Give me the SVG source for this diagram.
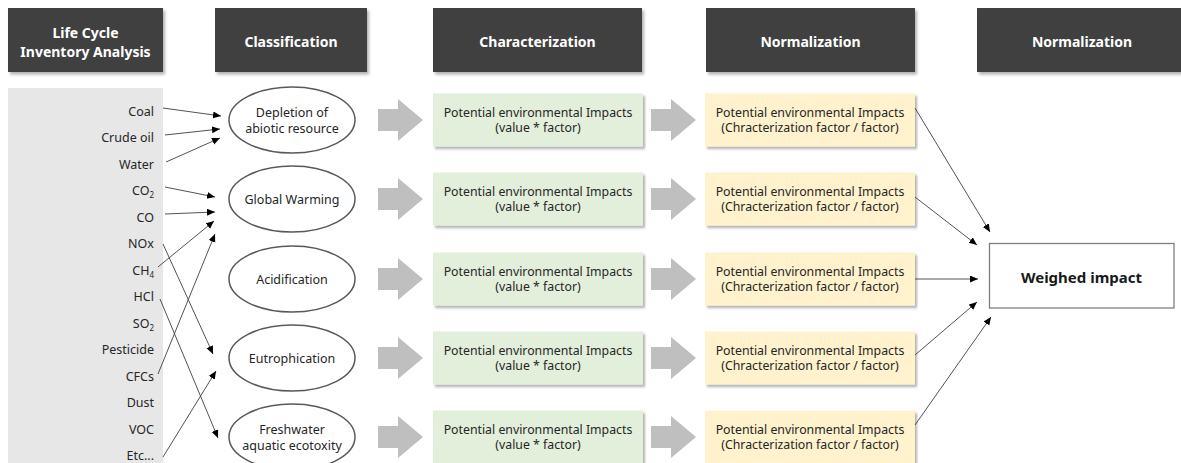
<svg xmlns="http://www.w3.org/2000/svg" width="1181" height="463" viewBox="0 0 1181 463">
<style>
.hdr{fill:#404040;filter:url(#sh)}
.ht{font-family:"Noto Sans","Liberation Sans",sans-serif;font-weight:bold;font-size:14px;fill:#ffffff;text-anchor:middle}
.lbl{font-family:"Noto Sans","Liberation Sans",sans-serif;font-size:12.5px;fill:#262626;text-anchor:end}
.et{font-family:"Noto Sans","Liberation Sans",sans-serif;font-size:12.5px;fill:#262626;text-anchor:middle}
.bt{font-family:"Noto Sans","Liberation Sans",sans-serif;font-size:12.3px;fill:#262626;text-anchor:middle}
.ell{fill:#ffffff;stroke:#595959;stroke-width:1.5}
.gb{fill:#e2efda;filter:url(#sh2)}
.yb{fill:#fff2cc;filter:url(#sh2)}
.ba{fill:#bfbfbf}
.con{fill:none;stroke:#404040;stroke-width:0.9;marker-end:url(#ah)}
</style>
<defs>
<filter id="sh" x="-10%" y="-10%" width="130%" height="140%"><feDropShadow dx="2" dy="2.5" stdDeviation="1.5" flood-color="#000" flood-opacity="0.3"/></filter>
<filter id="sh2" x="-10%" y="-10%" width="130%" height="140%"><feDropShadow dx="2" dy="2.5" stdDeviation="1.3" flood-color="#000" flood-opacity="0.3"/></filter>
<marker id="ah" markerUnits="userSpaceOnUse" markerWidth="9" markerHeight="8" refX="8" refY="3.5" orient="auto"><path d="M0,0 L8,3.5 L0,7 Z" fill="#000"/></marker>
<path id="barrow" d="M0,-11 H20 V-21 L45,0 L20,21 V11 H0 Z"/>
</defs>
<rect width="1181" height="463" fill="#ffffff"/>

<g id="headers">
<g id="h-lci"><rect class="hdr" x="8" y="8" width="155" height="64"/><text class="ht" x="85.5" y="38">Life Cycle</text><text class="ht" x="85.5" y="57">Inventory Analysis</text></g>
<g id="h-class"><rect class="hdr" x="215" y="8" width="152" height="64"/><text class="ht" x="291" y="47">Classification</text></g>
<g id="h-char"><rect class="hdr" x="433" y="8" width="209" height="64"/><text class="ht" x="537.5" y="47">Characterization</text></g>
<g id="h-norm1"><rect class="hdr" x="706" y="8" width="209" height="64"/><text class="ht" x="810.5" y="47">Normalization</text></g>
<g id="h-norm2"><rect class="hdr" x="977" y="8" width="210" height="64"/><text class="ht" x="1082" y="47">Normalization</text></g>
</g>

<g id="inventory">
<rect x="8" y="88" width="155" height="375" fill="#e7e7e7"/>
<text class="lbl" x="154" y="115.5">Coal</text>
<text class="lbl" x="154" y="142">Crude oil</text>
<text class="lbl" x="154" y="168.5">Water</text>
<text class="lbl" x="154" y="195">CO<tspan font-size="8" dy="3">2</tspan></text>
<text class="lbl" x="154" y="221.5">CO</text>
<text class="lbl" x="154" y="248">NOx</text>
<text class="lbl" x="154" y="274.5">CH<tspan font-size="8" dy="3">4</tspan></text>
<text class="lbl" x="154" y="301">HCl</text>
<text class="lbl" x="154" y="327.5">SO<tspan font-size="8" dy="3">2</tspan></text>
<text class="lbl" x="154" y="354">Pesticide</text>
<text class="lbl" x="154" y="380.5">CFCs</text>
<text class="lbl" x="154" y="407">Dust</text>
<text class="lbl" x="154" y="433.5">VOC</text>
<text class="lbl" x="154" y="460">Etc...</text>
</g>

<g id="cat-depletion"><ellipse class="ell" cx="292" cy="120" rx="63" ry="33"/><text class="et" x="292" y="116.5">Depletion of</text><text class="et" x="292" y="132.5">abiotic resource</text></g>
<g id="cat-gw"><ellipse class="ell" cx="292" cy="199" rx="63" ry="33"/><text class="et" x="292" y="203.5">Global Warming</text></g>
<g id="cat-acid"><ellipse class="ell" cx="292" cy="279" rx="63" ry="33"/><text class="et" x="292" y="283.5">Acidification</text></g>
<g id="cat-eutro"><ellipse class="ell" cx="292" cy="358" rx="63" ry="33"/><text class="et" x="292" y="362.5">Eutrophication</text></g>
<g id="cat-fresh"><ellipse class="ell" cx="292" cy="437" rx="63" ry="33"/><text class="et" x="292" y="433.5">Freshwater</text><text class="et" x="292" y="449.5">aquatic ecotoxity</text></g>

<g id="block-arrows">
<use href="#barrow" class="ba" x="378" y="120"/><use href="#barrow" class="ba" x="651" y="120"/>
<use href="#barrow" class="ba" x="378" y="199"/><use href="#barrow" class="ba" x="651" y="199"/>
<use href="#barrow" class="ba" x="378" y="279"/><use href="#barrow" class="ba" x="651" y="279"/>
<use href="#barrow" class="ba" x="378" y="358"/><use href="#barrow" class="ba" x="651" y="358"/>
<use href="#barrow" class="ba" x="378" y="437"/><use href="#barrow" class="ba" x="651" y="437"/>
</g>

<g id="char-1"><rect class="gb" x="433" y="93.5" width="210" height="53"/><text class="bt" x="538" y="116.5">Potential environmental Impacts</text><text class="bt" x="538" y="132">(value * factor)</text></g>
<g id="char-2"><rect class="gb" x="433" y="172.5" width="210" height="53"/><text class="bt" x="538" y="195.5">Potential environmental Impacts</text><text class="bt" x="538" y="211">(value * factor)</text></g>
<g id="char-3"><rect class="gb" x="433" y="252.5" width="210" height="53"/><text class="bt" x="538" y="275.5">Potential environmental Impacts</text><text class="bt" x="538" y="291">(value * factor)</text></g>
<g id="char-4"><rect class="gb" x="433" y="331.5" width="210" height="53"/><text class="bt" x="538" y="354.5">Potential environmental Impacts</text><text class="bt" x="538" y="370">(value * factor)</text></g>
<g id="char-5"><rect class="gb" x="433" y="410.5" width="210" height="53"/><text class="bt" x="538" y="433.5">Potential environmental Impacts</text><text class="bt" x="538" y="449">(value * factor)</text></g>

<g id="norm-1"><rect class="yb" x="705" y="93.5" width="210" height="53"/><text class="bt" x="810" y="116.5">Potential environmental Impacts</text><text class="bt" x="810" y="132">(Chracterization factor / factor)</text></g>
<g id="norm-2"><rect class="yb" x="705" y="172.5" width="210" height="53"/><text class="bt" x="810" y="195.5">Potential environmental Impacts</text><text class="bt" x="810" y="211">(Chracterization factor / factor)</text></g>
<g id="norm-3"><rect class="yb" x="705" y="252.5" width="210" height="53"/><text class="bt" x="810" y="275.5">Potential environmental Impacts</text><text class="bt" x="810" y="291">(Chracterization factor / factor)</text></g>
<g id="norm-4"><rect class="yb" x="705" y="331.5" width="210" height="53"/><text class="bt" x="810" y="354.5">Potential environmental Impacts</text><text class="bt" x="810" y="370">(Chracterization factor / factor)</text></g>
<g id="norm-5"><rect class="yb" x="705" y="410.5" width="210" height="53"/><text class="bt" x="810" y="433.5">Potential environmental Impacts</text><text class="bt" x="810" y="449">(Chracterization factor / factor)</text></g>

<g id="weighed"><rect x="989.5" y="243.5" width="184.5" height="64.5" fill="#ffffff" stroke="#7f7f7f" stroke-width="1.3"/><text x="1081.5" y="283" font-family="'Noto Sans','Liberation Sans',sans-serif" font-weight="bold" font-size="15px" fill="#1a1a1a" text-anchor="middle">Weighed impact</text></g>

<g id="connectors">
<line class="con" x1="163" y1="108" x2="221" y2="116"/>
<line class="con" x1="165" y1="135" x2="220" y2="129"/>
<line class="con" x1="166" y1="162" x2="220" y2="138"/>
<line class="con" x1="165" y1="187" x2="215" y2="197"/>
<line class="con" x1="165" y1="214" x2="215" y2="212"/>
<line class="con" x1="158" y1="267" x2="214" y2="221"/>
<line class="con" x1="163" y1="244" x2="213" y2="354"/>
<line class="con" x1="160" y1="299" x2="218" y2="438"/>
<line class="con" x1="158" y1="374" x2="215" y2="234"/>
<line class="con" x1="163" y1="457" x2="216" y2="371"/>
<line class="con" x1="915" y1="108" x2="990" y2="232"/>
<line class="con" x1="915" y1="197" x2="977" y2="245"/>
<line class="con" x1="915" y1="279" x2="978" y2="279"/>
<line class="con" x1="915" y1="355" x2="977" y2="302"/>
<line class="con" x1="915" y1="425" x2="991" y2="317"/>
</g>
</svg>
